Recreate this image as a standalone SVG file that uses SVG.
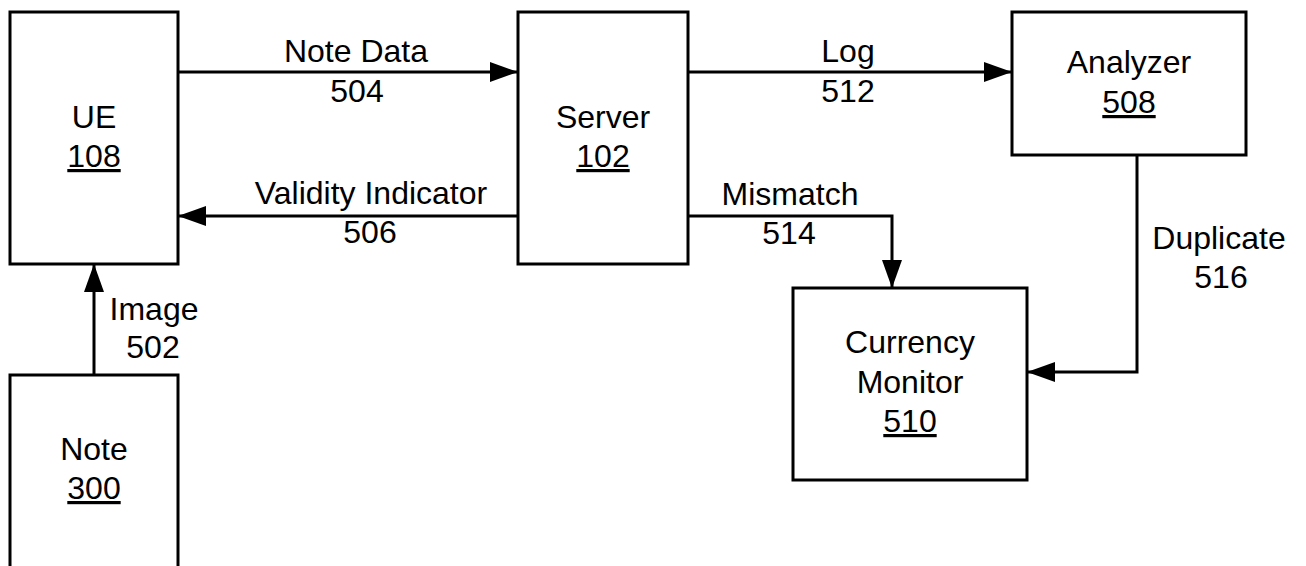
<svg xmlns="http://www.w3.org/2000/svg" width="1306" height="566" viewBox="0 0 1306 566">
  <style>
    .box { fill: #ffffff; stroke: #000000; stroke-width: 3; }
    .wire { fill: none; stroke: #000000; stroke-width: 3; }
    text { font-family: "Liberation Sans", Arial, sans-serif; font-size: 32px; fill: #000000; text-anchor: middle; }
    .ref { text-decoration: underline; }
  </style>
  <defs>
    <marker id="arrow" viewBox="0 0 28 20" refX="28" refY="10" markerWidth="28" markerHeight="20" markerUnits="userSpaceOnUse" orient="auto">
      <path d="M0,0 L28,10 L0,20 Z" fill="#000000"/>
    </marker>
  </defs>
  <rect width="1306" height="566" fill="#ffffff"/>

  <g id="connectors">
    <!-- UE -> Server -->
    <line class="wire" x1="178" y1="72" x2="518" y2="72" marker-end="url(#arrow)"/>
    <text x="356" y="62">Note Data</text>
    <text x="357" y="102">504</text>
    <!-- Server -> UE -->
    <line class="wire" x1="518" y1="216" x2="178" y2="216" marker-end="url(#arrow)"/>
    <text x="371" y="204">Validity Indicator</text>
    <text x="370" y="243">506</text>
    <!-- Server -> Analyzer -->
    <line class="wire" x1="688" y1="72" x2="1012" y2="72" marker-end="url(#arrow)"/>
    <text x="848" y="62">Log</text>
    <text x="848" y="102">512</text>
    <!-- Server -> Currency Monitor -->
    <polyline class="wire" points="688,216 892,216 892,288" marker-end="url(#arrow)"/>
    <text x="790" y="205">Mismatch</text>
    <text x="789" y="244">514</text>
    <!-- Analyzer -> Currency Monitor -->
    <polyline class="wire" points="1137,155 1137,372 1027,372" marker-end="url(#arrow)"/>
    <text x="1219" y="249">Duplicate</text>
    <text x="1221" y="288">516</text>
    <!-- Note -> UE -->
    <line class="wire" x1="94" y1="375" x2="94" y2="264" marker-end="url(#arrow)"/>
    <text x="154" y="320">Image</text>
    <text x="153" y="358">502</text>
  </g>

  <g id="ue">
    <rect class="box" x="10" y="12" width="168" height="252"/>
    <text x="94" y="128">UE</text>
    <text class="ref" x="94" y="167">108</text>
  </g>

  <g id="server">
    <rect class="box" x="518" y="12" width="170" height="252"/>
    <text x="603" y="128">Server</text>
    <text class="ref" x="603" y="167">102</text>
  </g>

  <g id="analyzer">
    <rect class="box" x="1012" y="12" width="234" height="143"/>
    <text x="1129" y="73">Analyzer</text>
    <text class="ref" x="1129" y="113">508</text>
  </g>

  <g id="currency-monitor">
    <rect class="box" x="793" y="288" width="234" height="192"/>
    <text x="910" y="353">Currency</text>
    <text x="910" y="393">Monitor</text>
    <text class="ref" x="910" y="432">510</text>
  </g>

  <g id="note">
    <rect class="box" x="10" y="375" width="168" height="200"/>
    <text x="94" y="460">Note</text>
    <text class="ref" x="94" y="499">300</text>
  </g>
</svg>
